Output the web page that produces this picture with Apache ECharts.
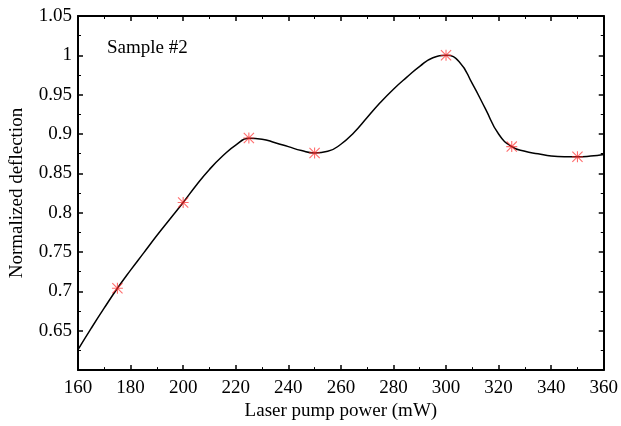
<!DOCTYPE html>
<html>
<head>
<meta charset="utf-8">
<script src="https://cdn.jsdelivr.net/npm/echarts@6/dist/echarts.min.js"></script>
<style>
  html, body { margin: 0; padding: 0; background: #fff; }
  #chart { width: 621px; height: 426px; }
</style>
</head>
<body>
<div id="chart"></div>
<script>
// measured points (red asterisks)
const powerPoints = [175, 200, 225, 250, 300, 325, 350]
const deflectionPoints = [0.704, 0.813, 0.895, 0.876, 1.0, 0.884, 0.871]

// fitted curve, every 5 mW
const curvePower = [160, 165, 170, 175, 180, 185, 190, 195, 200, 205, 210, 215, 220, 225, 230, 235, 240, 245, 250, 255, 260, 265, 270, 275, 280, 285, 290, 295, 300, 305, 310, 315, 320, 325, 330, 335, 340, 345, 350, 355, 360]
const curveDeflection = [0.626, 0.653, 0.679, 0.704, 0.727, 0.749, 0.771, 0.792, 0.813, 0.835, 0.855, 0.872, 0.886, 0.8945, 0.8935, 0.889, 0.884, 0.879, 0.876, 0.878, 0.887, 0.902, 0.921, 0.940, 0.957, 0.972, 0.986, 0.997, 1.000, 0.992, 0.964, 0.932, 0.900, 0.884, 0.878, 0.875, 0.872, 0.871, 0.871, 0.872, 0.874]

const font = '"Liberation Serif", "DejaVu Serif", serif'
const star = 'path://M4.5,0h1v10h-1z M0,4.5h10v1h-10z M0,0.7L0.7,0L10,9.3L9.3,10Z M10,0.7L0.7,10L0,9.3L9.3,0Z'

const frameAxis = {
  axisLine: { show: true, onZero: false, lineStyle: { color: '#000', width: 2 } },
  axisTick: { show: true, inside: true, length: 5, lineStyle: { color: '#000', width: 1.5 } },
  minorTick: { show: true, splitNumber: 2, length: 3, lineStyle: { color: '#000', width: 1 } },
  splitLine: { show: false },
}

const option = {
  animation: false,
  grid: { left: 74, right: 16, top: 16, bottom: 52 },
  xAxis: [
    {
      type: 'value', min: 160, max: 360, interval: 20,
      name: 'Laser pump power (mW)', nameLocation: 'middle', nameGap: 30,
      nameTextStyle: { fontFamily: font, fontSize: 19, color: '#000' },
      axisLabel: { fontFamily: font, fontSize: 19, color: '#000', margin: 8 },
      ...frameAxis,
    },
    {
      type: 'value', min: 160, max: 360, interval: 20, position: 'top',
      axisLabel: { show: false },
      ...frameAxis,
    },
  ],
  yAxis: [
    {
      type: 'value', min: 0.6, max: 1.05, interval: 0.05,
      name: 'Normalized deflection', nameLocation: 'middle', nameGap: 51,
      nameTextStyle: { fontFamily: font, fontSize: 19, color: '#000' },
      axisLabel: {
        fontFamily: font, fontSize: 19, color: '#000', margin: 6,
        formatter: v => (Math.abs(v - 0.6) < 1e-6 ? '' : String(parseFloat(v.toFixed(2)))),
      },
      ...frameAxis,
    },
    {
      type: 'value', min: 0.6, max: 1.05, interval: 0.05, position: 'right',
      axisLabel: { show: false },
      ...frameAxis,
    },
  ],
  graphic: [{
    type: 'text', left: 107, top: 39,
    style: { text: 'Sample #2', font: '19px ' + font, fill: '#000' },
  }],
  series: [
    {
      type: 'line',
      data: curvePower.map((x, i) => [x, curveDeflection[i]]),
      smooth: 0.5,
      showSymbol: false,
      lineStyle: { color: '#000', width: 1.5 },
      z: 2,
    },
    {
      type: 'scatter',
      data: powerPoints.map((x, i) => [x, deflectionPoints[i]]),
      symbol: star,
      symbolSize: 11,
      itemStyle: { color: 'rgba(255,40,40,0.85)' },
      z: 3,
    },
  ],
}

const chart = echarts.init(document.getElementById('chart'))
chart.setOption(option)
</script>
</body>
</html>
